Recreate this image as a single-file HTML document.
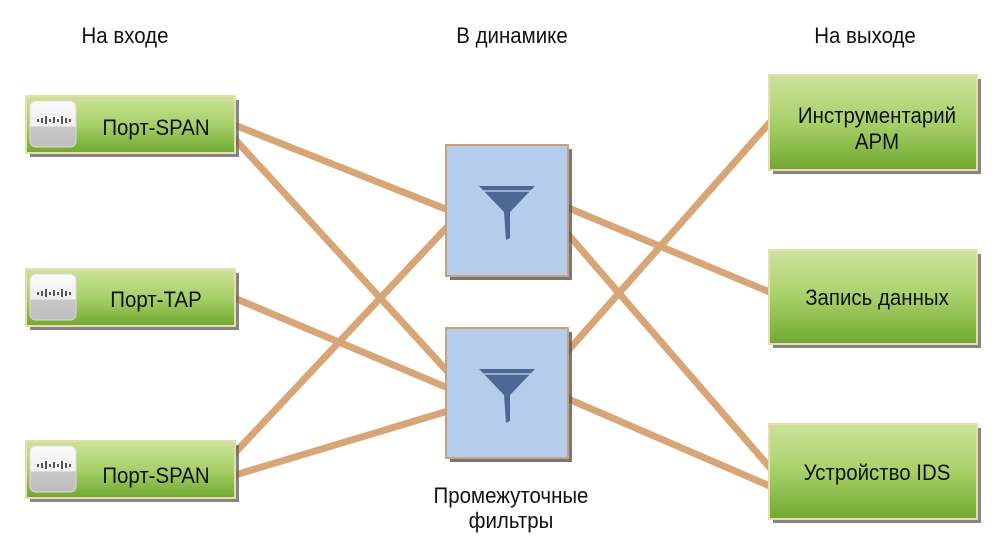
<!DOCTYPE html>
<html><head><meta charset="utf-8"><style>
html,body{margin:0;padding:0;background:#fff;width:1000px;height:554px;overflow:hidden}
svg{display:block}
text{font-family:"Liberation Sans",sans-serif;fill:#111}
</style></head><body>
<svg width="1000" height="554" viewBox="0 0 1000 554" xmlns="http://www.w3.org/2000/svg">
<defs>
<linearGradient id="g" x1="0" y1="0" x2="0" y2="1">
<stop offset="0" stop-color="#cbe39a"/><stop offset="0.5" stop-color="#a8d06a"/><stop offset="1" stop-color="#6fa830"/>
</linearGradient>
<linearGradient id="ic" x1="0" y1="0" x2="0" y2="1">
<stop offset="0" stop-color="#fafafa"/><stop offset="0.55" stop-color="#f0f0f0"/><stop offset="0.56" stop-color="#c8c8c8"/><stop offset="1" stop-color="#bdbdbd"/>
</linearGradient>
<g id="funnel">
<path d="M-28,-12 L28,-12 L3,14 L3,40 L-1,42 L-3,14 Z" fill="#4f6795"/>
<path d="M-24,-7 L24,-7" stroke="#b4c8e6" stroke-width="1.5"/>
</g>
<g id="icon">
<rect x="0" y="0" width="46" height="46" rx="6" fill="url(#ic)" stroke="#ddd"/>
<g fill="#555">
<rect x="7" y="18" width="2" height="3"/><rect x="11" y="17" width="2" height="5"/><rect x="15" y="15" width="2" height="8"/><rect x="19" y="18" width="2" height="3"/><rect x="23" y="16" width="2" height="6"/><rect x="27" y="18" width="2" height="3"/><rect x="31" y="15" width="2" height="8"/><rect x="35" y="17" width="2" height="5"/><rect x="39" y="18" width="2" height="3"/>
</g>
</g>
</defs>

<g stroke="#d8a676" stroke-width="7" stroke-linecap="butt">
<line x1="232" y1="124" x2="448" y2="210"/>
<line x1="232" y1="136" x2="448" y2="372"/>
<line x1="232" y1="297" x2="448" y2="388"/>
<line x1="232" y1="456" x2="448" y2="226"/>
<line x1="232" y1="476" x2="448" y2="411"/>
<line x1="566" y1="207" x2="772" y2="293"/>
<line x1="566" y1="232" x2="772" y2="470"/>
<line x1="566" y1="353" x2="772" y2="120"/>
<line x1="566" y1="398" x2="772" y2="487"/>
</g>

<rect x="450" y="149" width="122" height="131" fill="#555" opacity="0.8"/>
<rect x="446" y="145" width="122" height="131" fill="#b4cdec" stroke="#caa07a" stroke-width="2"/>
<use href="#funnel" x="507" y="198"/>
<rect x="450" y="332" width="122" height="130" fill="#555" opacity="0.8"/>
<rect x="446" y="328" width="122" height="130" fill="#b4cdec" stroke="#caa07a" stroke-width="2"/>
<use href="#funnel" x="507" y="381"/>

<g>
<rect x="30" y="100" width="209" height="57" fill="#666" opacity="0.8"/>
<rect x="26" y="96" width="209" height="57" fill="url(#g)" stroke="#e9dcae" stroke-width="2"/>
<use href="#icon" x="30" y="101"/>
<rect x="30" y="273" width="209" height="57" fill="#666" opacity="0.8"/>
<rect x="26" y="269" width="209" height="57" fill="url(#g)" stroke="#e9dcae" stroke-width="2"/>
<use href="#icon" x="30" y="274"/>
<rect x="30" y="445" width="209" height="57" fill="#666" opacity="0.8"/>
<rect x="26" y="441" width="209" height="57" fill="url(#g)" stroke="#e9dcae" stroke-width="2"/>
<use href="#icon" x="30" y="446"/>
</g>

<rect x="773" y="79" width="208" height="95" fill="#666" opacity="0.8"/>
<rect x="769" y="75" width="208" height="95" fill="url(#g)" stroke="#e9dcae" stroke-width="2"/>
<rect x="773" y="254" width="208" height="94" fill="#666" opacity="0.8"/>
<rect x="769" y="250" width="208" height="94" fill="url(#g)" stroke="#e9dcae" stroke-width="2"/>
<rect x="773" y="428" width="208" height="95" fill="#666" opacity="0.8"/>
<rect x="769" y="424" width="208" height="95" fill="url(#g)" stroke="#e9dcae" stroke-width="2"/>

<g font-size="22" text-anchor="middle">
<text transform="translate(125,43) scale(0.93,1)">На входе</text>
<text transform="translate(512,43) scale(0.93,1)">В динамике</text>
<text transform="translate(865,43) scale(0.93,1)">На выходе</text>
<text transform="translate(156,135) scale(0.93,1)">Порт-SPAN</text>
<text transform="translate(156,307) scale(0.93,1)">Порт-TAP</text>
<text transform="translate(156,483) scale(0.93,1)">Порт-SPAN</text>
<text transform="translate(877,123) scale(0.93,1)">Инструментарий</text>
<text transform="translate(877,149) scale(0.93,1)">APM</text>
<text transform="translate(877,305) scale(0.93,1)">Запись данных</text>
<text transform="translate(877,480) scale(0.93,1)">Устройство IDS</text>
<text transform="translate(511,503) scale(0.93,1)">Промежуточные</text>
<text transform="translate(511,528) scale(0.93,1)">фильтры</text>
</g>
</svg>
</body></html>
